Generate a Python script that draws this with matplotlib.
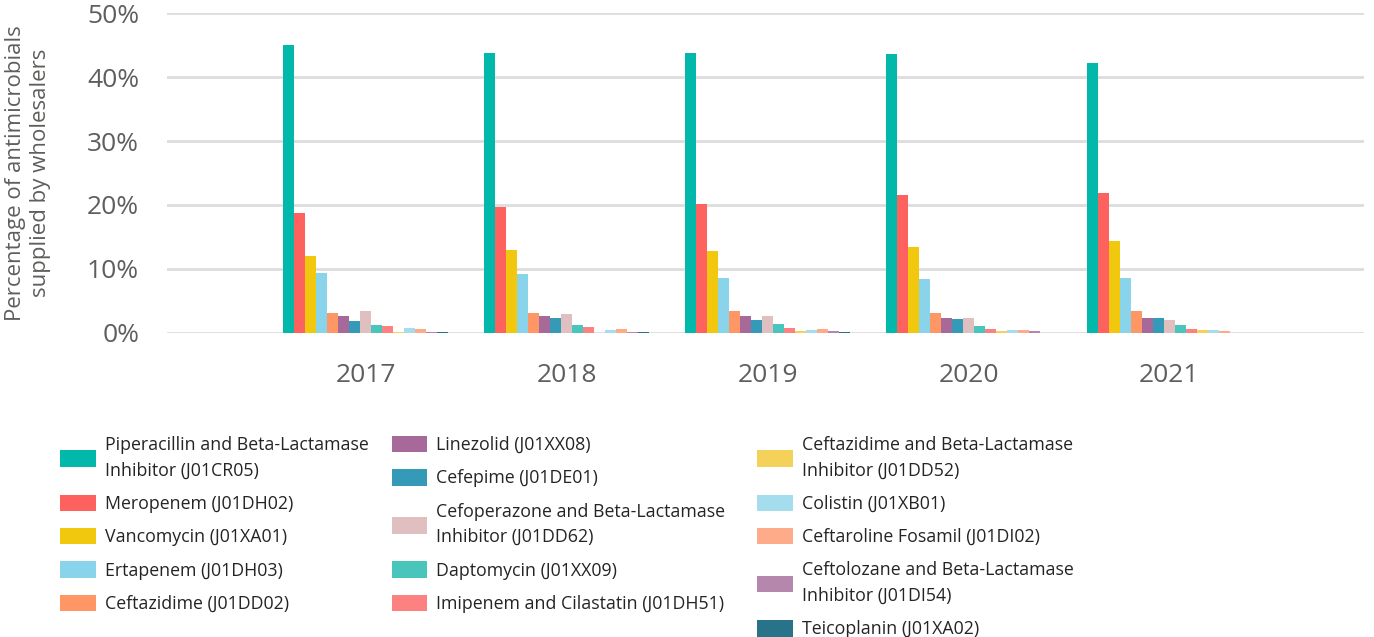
import matplotlib.pyplot as plt
import numpy as np
from matplotlib.ticker import FuncFormatter

plt.rcParams['font.family'] = ['Open Sans', 'DejaVu Sans']

years = ['2017', '2018', '2019', '2020', '2021']

drugs = [
    'Piperacillin and Beta-Lactamase\nInhibitor (J01CR05)',
    'Meropenem (J01DH02)',
    'Vancomycin (J01XA01)',
    'Ertapenem (J01DH03)',
    'Ceftazidime (J01DD02)',
    'Linezolid (J01XX08)',
    'Cefepime (J01DE01)',
    'Cefoperazone and Beta-Lactamase\nInhibitor (J01DD62)',
    'Daptomycin (J01XX09)',
    'Imipenem and Cilastatin (J01DH51)',
    'Ceftazidime and Beta-Lactamase\nInhibitor (J01DD52)',
    'Colistin (J01XB01)',
    'Ceftaroline Fosamil (J01DI02)',
    'Ceftolozane and Beta-Lactamase\nInhibitor (J01DI54)',
    'Teicoplanin (J01XA02)',
]

colors = ['#01B8AA', '#FD625E', '#F2C80F', '#8AD4EB', '#FE9666',
          '#A66999', '#3599B8', '#DFBFBF', '#4AC5BB', '#FB8281',
          '#F4D25A', '#A4DDEE', '#FDAB89', '#B687AC', '#28738A']

# percent per year (2017..2021) for each drug, same order as drugs
piperacillin = [45.1, 43.8, 43.8, 43.6, 42.3]
meropenem = [18.8, 19.6, 20.1, 21.5, 21.8]
vancomycin = [12.0, 13.0, 12.7, 13.4, 14.3]
ertapenem = [9.3, 9.2, 8.5, 8.4, 8.6]
ceftazidime = [3.1, 3.05, 3.3, 3.05, 3.3]
linezolid = [2.6, 2.6, 2.6, 2.2, 2.3]
cefepime = [1.8, 2.3, 2.0, 2.1, 2.2]
cefoperazone = [3.3, 2.9, 2.6, 2.2, 1.9]
daptomycin = [1.2, 1.2, 1.3, 1.0, 1.15]
imipenem = [1.0, 0.8, 0.74, 0.58, 0.5]
ceftazidime_bl = [0.1, 0.0, 0.26, 0.2, 0.42]
colistin = [0.7, 0.4, 0.47, 0.42, 0.42]
ceftaroline = [0.5, 0.5, 0.58, 0.42, 0.3]
ceftolozane = [0.1, 0.1, 0.16, 0.16, 0.0]
teicoplanin = [0.02, 0.05, 0.03, 0.0, 0.0]

series = [piperacillin, meropenem, vancomycin, ertapenem, ceftazidime,
          linezolid, cefepime, cefoperazone, daptomycin, imipenem,
          ceftazidime_bl, colistin, ceftaroline, ceftolozane, teicoplanin]

fig = plt.figure(figsize=(13.74, 6.37), dpi=100)
ax = fig.add_axes([0.1215, 0.478, 0.8715, 0.501])

x = np.arange(len(years))
n = len(series)
w = 0.82 / n
bars = []
for i, vals in enumerate(series):
    b = ax.bar(x - 0.41 + w * (i + 0.5), np.array(vals) / 100, width=w,
               color=colors[i], zorder=3)
    bars.append(b)

ax.set_ylim(0, 0.5)
ax.set_xlim(-0.99, 4.97)
ax.set_yticks(np.arange(0, 0.51, 0.1))
ax.yaxis.set_major_formatter(FuncFormatter(lambda v, p: f'{v * 100:.0f}%'))
ax.set_xticks(x)
ax.set_xticklabels(years)
ax.grid(axis='y', color='#DDDDDD', linewidth=2, zorder=0)
for s in ax.spines.values():
    s.set_visible(False)
ax.tick_params(axis='both', length=0, labelsize=19, colors='#605E5C')
ax.tick_params(axis='x', pad=22)
ax.tick_params(axis='y', pad=20)
ax.set_ylabel('Percentage of antimicrobials\nsupplied by wholesalers',
              fontsize=16, color='#605E5C', labelpad=26, linespacing=1.25)

# legend: three columns of five
anchors = [(0.044, 0.316), (0.285, 0.316), (0.551, 0.316)]
for c in range(3):
    idx = range(c * 5, c * 5 + 5)
    leg = fig.legend([bars[i] for i in idx], [drugs[i] for i in idx],
                     loc='upper left', bbox_to_anchor=anchors[c], frameon=False,
                     fontsize=12.8, handlelength=2.0, handleheight=1.05,
                     handletextpad=0.5, labelspacing=0.85, labelcolor='#252423',
                     borderaxespad=0, borderpad=0)
    for t in leg.get_texts():
        t.set_linespacing(1.55)

fig.savefig('out.png', dpi=100)
